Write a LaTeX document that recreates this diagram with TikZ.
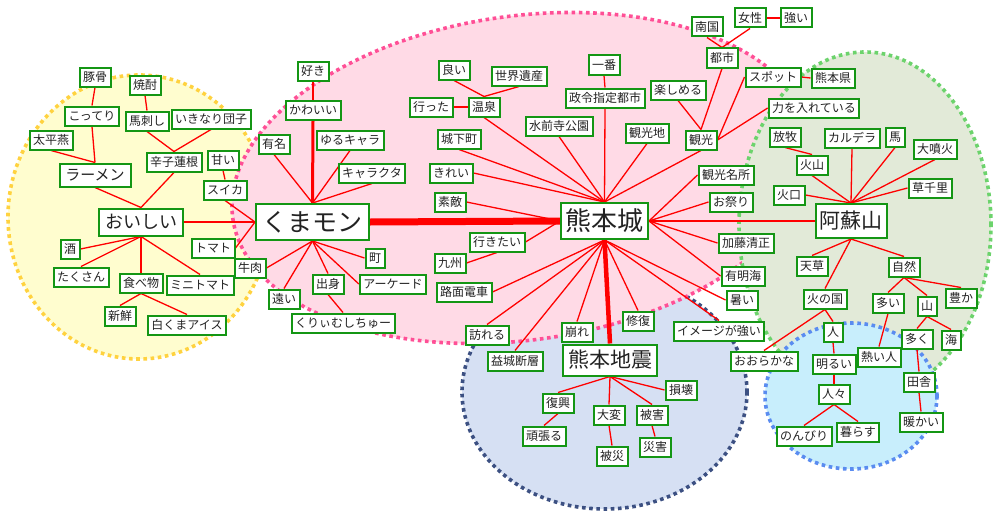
\documentclass[tikz,border=0pt]{standalone}
\usepackage{fontspec}
\newfontfamily\jp{Noto Sans CJK JP}
\definecolor{ngreen}{HTML}{149614}
\definecolor{yfill}{HTML}{FFFDCF}
\definecolor{yline}{HTML}{FFD23F}
\definecolor{pfill}{HTML}{FFDAE6}
\definecolor{pline}{HTML}{FF4F96}
\definecolor{gfill}{HTML}{E2EAD8}
\definecolor{gline}{HTML}{6CD36C}
\definecolor{dbfill}{HTML}{D6E0F3}
\definecolor{dbline}{HTML}{3C5082}
\definecolor{lbfill}{HTML}{C8EEFC}
\definecolor{lbline}{HTML}{5A8CF0}
\definecolor{txt}{HTML}{222222}
\pgfdeclarelayer{bg}
\pgfdeclarelayer{edgelayer}
\pgfsetlayers{bg,edgelayer,main}
\begin{document}
\begin{tikzpicture}[x=1pt,y=-1pt,
  kw/.style={draw=ngreen, line width=2pt, fill=white, text=txt,
    font=\jp\fontsize{12}{14}\selectfont, inner xsep=3.5pt, inner ysep=0pt,
    minimum height=19pt, text height=10.5pt, text depth=1.5pt},
  bigkw/.style n args={3}{kw, font=\jp\fontsize{#1}{#1}\selectfont,
    text height=0.88*#1 pt, text depth=0.12*#1 pt,
    minimum width=#2pt, minimum height=#3pt, inner xsep=2pt},
  ed/.style={draw=red, line width=1.3pt},
  blob/.style={line width=3.6pt, dash pattern=on 3.6pt off 3.6pt}]
\useasboundingbox (0,0) rectangle (1000,519);
\begin{pgfonlayer}{bg}
\fill[white] (0,0) rectangle (1000,519);
\draw[blob, fill=yfill, draw=yline] (139,217) ellipse [x radius=131pt, y radius=142pt];
\draw[blob, fill=dbfill, draw=dbline] (604.5,392) ellipse [x radius=142.5pt, y radius=117pt];
\draw[blob, fill=pfill, draw=pline, rotate around={8:(522,178)}] (522,178) ellipse [x radius=292pt, y radius=162pt];
\draw[blob, fill=gfill, draw=gline] (865,225) ellipse [x radius=126pt, y radius=173pt];
\draw[blob, fill=lbfill, draw=lbline] (851,396) ellipse [x radius=86pt, y radius=73pt];
\end{pgfonlayer}
% yellow cluster
\node[kw] (n1) at (95,77) {豚骨};
\node[kw] (n2) at (145,85) {焼酎};
\node[kw] (n3) at (92,116) {こってり};
\node[kw] (n4) at (147,121) {馬刺し};
\node[kw] (n5) at (211,119) {いきなり団子};
\node[kw] (n6) at (51,140) {太平燕};
\node[kw] (n7) at (174,162) {辛子蓮根};
\node[kw] (n8) at (223,160) {甘い};
\node[bigkw={15}{71}{23}] (ramen) at (95,175) {ラーメン};
\node[kw] (n9) at (225,190) {スイカ};
\node[bigkw={18}{84}{27}] (oishii) at (141,222) {おいしい};
\node[kw] (n10) at (70,249) {酒};
\node[kw] (n11) at (213,248) {トマト};
\node[kw] (n12) at (250,268) {牛肉};
\node[kw] (n13) at (81,277) {たくさん};
\node[kw] (n14) at (141,283) {食べ物};
\node[kw] (n15) at (200,285) {ミニトマト};
\node[kw] (n16) at (120,316) {新鮮};
\node[kw] (n17) at (187,325) {白くまアイス};
% kumamon cluster
\node[kw] (suki) at (313,71) {好き};
\node[kw] (kawaii) at (313,110) {かわいい};
\node[kw] (yumei) at (274,144) {有名};
\node[kw] (yuru) at (350,140) {ゆるキャラ};
\node[kw] (chara) at (372,173) {キャラクタ};
\node[bigkw={25}{113}{36}] (kuma) at (312.5,222) {くまモン};
\node[kw] (machi) at (375,258) {町};
\node[kw] (toi) at (284,299) {遠い};
\node[kw] (shus) at (328,284) {出身};
\node[kw] (arc) at (393,284) {アーケード};
\node[kw] (kuri) at (343,323) {くりぃむしちゅー};
% castle cluster
\node[kw] (yoi) at (454,70) {良い};
\node[kw] (sekai) at (519,76) {世界遺産};
\node[kw] (ichi) at (604,65) {一番};
\node[kw] (itta) at (431,107) {行った};
\node[kw] (onsen) at (484,107) {温泉};
\node[kw] (seirei) at (605,98) {政令指定都市};
\node[kw] (tano) at (678,90) {楽しめる};
\node[kw] (suizen) at (559,126) {水前寺公園};
\node[kw] (joka) at (459,139) {城下町};
\node[kw] (kankochi) at (647,133) {観光地};
\node[kw] (kirei) at (451,173) {きれい};
\node[kw] (suteki) at (450,202) {素敵};
\node[bigkw={26}{87}{36}] (shiro) at (604.5,221) {熊本城};
\node[kw] (ikitai) at (497,242) {行きたい};
\node[kw] (kyushu) at (450,263) {九州};
\node[kw] (romen) at (464,292) {路面電車};
\node[kw] (otozu) at (487,335) {訪れる};
\node[kw] (kuzure) at (577,332) {崩れ};
\node[kw] (shufuku) at (638,321) {修復};
\node[kw] (image) at (719,331) {イメージが強い};
\node[kw] (kato) at (746,243) {加藤清正};
\node[kw] (ariake) at (743,276) {有明海};
\node[kw] (atsui) at (742,300) {暑い};
\node[kw] (meisho) at (726,175) {観光名所};
\node[kw] (matsuri) at (731,202) {お祭り};
\node[kw] (kanko) at (701,140) {観光};
\node[kw] (toshi) at (722,58) {都市};
\node[kw] (nangoku) at (707,27) {南国};
\node[kw] (josei) at (750,18) {女性};
\node[kw] (tsuyoi) at (796,18) {強い};
\node[kw] (spot) at (773,77) {スポット};
\node[kw] (kenmei) at (833,78) {熊本県};
\node[kw] (chikara) at (814,108) {力を入れている};
% quake cluster
\node[bigkw={21}{94}{31}] (jishin) at (610,360) {熊本地震};
\node[kw] (mashiki) at (515,361) {益城断層};
\node[kw] (sonkai) at (681,390) {損壊};
\node[kw] (fukko) at (558,403) {復興};
\node[kw] (taihen) at (609,415) {大変};
\node[kw] (higai) at (652,415) {被害};
\node[kw] (ganba) at (544,436) {頑張る};
\node[kw] (hisai) at (612,456) {被災};
\node[kw] (saigai) at (655,447) {災害};
% aso cluster
\node[bigkw={21}{71}{34}] (aso) at (851,221) {阿蘇山};
\node[kw] (hobo) at (785,137) {放牧};
\node[kw] (caldera) at (852,138) {カルデラ};
\node[kw] (uma) at (895,137) {馬};
\node[kw] (funka) at (935,149) {大噴火};
\node[kw] (kazan) at (812,165) {火山};
\node[kw] (kako) at (789,195) {火口};
\node[kw] (kusa) at (930,188) {草千里};
\node[kw] (amakusa) at (812,266) {天草};
\node[kw] (shizen) at (904,267) {自然};
\node[kw] (hinokuni) at (825,299) {火の国};
\node[kw] (oi) at (888,303) {多い};
\node[kw] (yama) at (927,306) {山};
\node[kw] (yutaka) at (961,298) {豊か};
\node[kw] (hito) at (833,332) {人};
\node[kw] (ooku) at (917,339) {多く};
\node[kw] (umi) at (951,340) {海};
\node[kw] (ooraka) at (764,361) {おおらかな};
\node[kw] (akarui) at (834,364) {明るい};
\node[kw] (atsuihito) at (879,357) {熱い人};
\node[kw] (inaka) at (919,382) {田舎};
\node[kw] (hitobito) at (834,394) {人々};
\node[kw] (atatakai) at (921,422) {暖かい};
\node[kw] (nonbiri) at (804,436) {のんびり};
\node[kw] (kurasu) at (858,432) {暮らす};
\begin{pgfonlayer}{edgelayer}
\draw[ed] (n1.south) -- (n3.north);
\draw[ed] (n3.south) -- (ramen.north);
\draw[ed] (n6.south) -- (ramen.north);
\draw[ed] (n2.south) -- (n4.north);
\draw[ed] (n4.south) -- (n7.north);
\draw[ed] (n5.south) -- (n7.north);
\draw[ed] (n7.south) -- (oishii.north);
\draw[ed] (ramen.south) -- (oishii.north);
\draw[ed] (n8.south) -- (n9.north);
\draw[ed] (n9.south) -- (kuma.west);
\draw[ed] (oishii.east) -- (kuma.west);
\draw[ed] (n11.east) -- (kuma.west);
\draw[ed] (oishii.south) -- (n10.east);
\draw[ed] (oishii.south) -- (n13.north);
\draw[ed] (oishii.south) -- (n14.north);
\draw[ed] (oishii.south) -- (n15.north);
\draw[ed] (n14.south) -- (n16.north);
\draw[ed] (n14.south) -- (n17.north);
\draw[ed] (n12.east) -- (kuma.south);
\draw[ed] (suki.south) -- (kawaii.north);
\draw[ed, line width=3pt] (kawaii.south) -- (kuma.north);
\draw[ed] (yumei.south) -- (kuma.north);
\draw[ed] (yuru.south) -- (kuma.north);
\draw[ed] (chara.south) -- (kuma.north);
\draw[ed] (kuma.south) -- (machi.west);
\draw[ed] (kuma.south) -- (arc.west);
\draw[ed] (kuma.south) -- (shus.north);
\draw[ed] (kuma.south) -- (toi.north);
\draw[ed] (shus.south) -- (kuri.north);
\draw[ed, line width=7pt] (kuma.east) -- (shiro.west);
\draw[ed] (yoi.south) -- (onsen.north);
\draw[ed] (sekai.south) -- (onsen.north);
\draw[ed] (itta.east) -- (onsen.west);
\draw[ed] (onsen.south) -- (shiro.north);
\draw[ed] (ichi.south) -- (seirei.north);
\draw[ed] (seirei.south) -- (shiro.north);
\draw[ed] (suizen.south) -- (shiro.north);
\draw[ed] (joka.south) -- (shiro.north);
\draw[ed] (kankochi.south) -- (shiro.north);
\draw[ed] (kirei.east) -- (shiro.north);
\draw[ed] (suteki.east) -- (shiro.west);
\draw[ed] (ikitai.east) -- (shiro.west);
\draw[ed] (kyushu.east) -- (ikitai.south);
\draw[ed] (kanko.south) -- (shiro.north);
\draw[ed] (nangoku.south) -- (toshi.north);
\draw[ed] (josei.south) -- (toshi.north);
\draw[ed] (josei.east) -- (tsuyoi.west);
\draw[ed] (toshi.south) -- (kanko.north);
\draw[ed] (tano.south) -- (kanko.north);
\draw[ed] (spot.west) -- (kanko.east);
\draw[ed] (chikara.west) -- (kanko.east);
\draw[ed] (spot.east) -- (kenmei.west);
\draw[ed] (meisho.west) -- (shiro.east);
\draw[ed] (matsuri.west) -- (shiro.east);
\draw[ed, line width=2.8pt] (shiro.east) -- (aso.west);
\draw[ed] (shiro.east) -- (kato.west);
\draw[ed] (shiro.east) -- (ariake.west);
\draw[ed] (shiro.south) -- (atsui.west);
\draw[ed] (shiro.south) -- (image.north);
\draw[ed] (shiro.south) -- (romen.east);
\draw[ed] (shiro.south) -- (otozu.north);
\draw[ed] (shiro.south) -- (mashiki.north);
\draw[ed] (shiro.south) -- (kuzure.north);
\draw[ed] (shiro.south) -- (shufuku.north);
\draw[ed, line width=4.5pt] (shiro.south) -- (jishin.north);
\draw[ed] (jishin.south) -- (fukko.north);
\draw[ed] (jishin.south) -- (sonkai.west);
\draw[ed] (jishin.south) -- (taihen.north);
\draw[ed] (jishin.south) -- (higai.north);
\draw[ed] (fukko.south) -- (ganba.north);
\draw[ed] (taihen.south) -- (hisai.north);
\draw[ed] (higai.south) -- (saigai.north);
\draw[ed] (hobo.south) -- (kazan.north);
\draw[ed] (kazan.south) -- (aso.north);
\draw[ed] (caldera.south) -- (aso.north);
\draw[ed] (uma.south) -- (aso.north);
\draw[ed] (funka.south) -- (aso.north);
\draw[ed] (kusa.west) -- (aso.north);
\draw[ed] (kako.east) -- (aso.north);
\draw[ed] (aso.south) -- (amakusa.north);
\draw[ed] (aso.south) -- (hinokuni.north);
\draw[ed] (aso.south) -- (shizen.north);
\draw[ed] (shizen.south) -- (oi.north);
\draw[ed] (shizen.south) -- (yama.north);
\draw[ed] (shizen.south) -- (yutaka.north);
\draw[ed] (hinokuni.south) -- (hito.north);
\draw[ed] (hinokuni.south) -- (ooraka.north);
\draw[ed] (hito.south) -- (akarui.north);
\draw[ed] (akarui.south) -- (hitobito.north);
\draw[ed] (hitobito.south) -- (nonbiri.north);
\draw[ed] (hitobito.south) -- (kurasu.north);
\draw[ed] (oi.south) -- (atsuihito.north);
\draw[ed] (yama.south) -- (ooku.north);
\draw[ed] (yama.south) -- (umi.north);
\draw[ed] (ooku.south) -- (inaka.north);
\draw[ed] (inaka.south) -- (atatakai.north);
\end{pgfonlayer}
\end{tikzpicture}
\end{document}
